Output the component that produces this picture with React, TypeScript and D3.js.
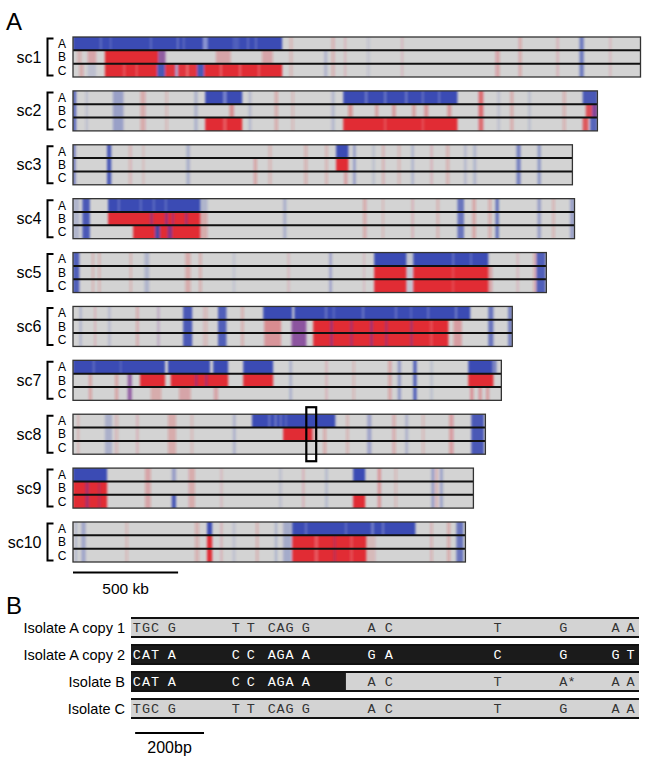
import * as d3 from 'd3'

// [startKb, endKb, tracks, colour key, strength]
type Seg = [number, number, string, string, number]

const panelLabels = ['A', 'B']
const scaffoldNames = ['sc1', 'sc2', 'sc3', 'sc4', 'sc5', 'sc6', 'sc7', 'sc8', 'sc9', 'sc10']
const scaffoldLengthsKb = [2700, 2495, 2376, 2386, 2252, 2090, 2038, 1962, 1905, 1867]
const trackNames = ['A', 'B', 'C']

const sc1Segs: Seg[] = [
  [0, 995, 'A', 'B', 1],
  [129, 136, 'A', 'W', 0.3], [176, 182, 'A', 'W', 0.25], [367, 374, 'A', 'W', 0.3],
  [495, 502, 'A', 'W', 0.35], [524, 530, 'A', 'W', 0.3], [619, 640, 'A', 'W', 0.55],
  [829, 836, 'A', 'W', 0.3], [867, 874, 'A', 'W', 0.3], [760, 790, 'A', 'W', 0.15],
  [20, 40, 'B', 'R', 0.25], [70, 110, 'B', 'R', 0.35], [152, 405, 'B', 'R', 0.95],
  [405, 440, 'B', 'P', 0.75], [680, 750, 'B', 'R', 0.35], [900, 950, 'B', 'R', 0.35],
  [30, 50, 'C', 'R', 0.3], [70, 110, 'C', 'B', 0.2], [152, 400, 'C', 'R', 0.95],
  [400, 438, 'C', 'B', 0.9], [438, 486, 'C', 'R', 0.9], [486, 500, 'C', 'B', 0.5],
  [500, 590, 'C', 'R', 0.9], [590, 624, 'C', 'B', 0.9], [624, 995, 'C', 'R', 0.95],
  [240, 248, 'C', 'W', 0.3], [300, 306, 'C', 'W', 0.3], [540, 548, 'C', 'W', 0.4],
  [700, 708, 'C', 'W', 0.35], [790, 800, 'C', 'W', 0.3], [880, 888, 'C', 'W', 0.3],
  [1030, 1045, 'ABC', 'R', 0.2], [1195, 1210, 'BC', 'B', 0.3], [1230, 1245, 'ABC', 'R', 0.25],
  [1290, 1300, 'ABC', 'R', 0.2], [1400, 1412, 'ABC', 'B', 0.15], [1560, 1572, 'ABC', 'R', 0.15],
  [2010, 2030, 'BC', 'R', 0.35], [2120, 2135, 'ABC', 'R', 0.3], [2300, 2312, 'ABC', 'R', 0.2],
  [2410, 2430, 'ABC', 'B', 0.65], [2550, 2562, 'ABC', 'R', 0.15],
]

const sc2Segs: Seg[] = [
  [0, 15, 'ABC', 'B', 0.8], [60, 72, 'ABC', 'B', 0.2], [190, 240, 'ABC', 'B', 0.5],
  [320, 345, 'ABC', 'R', 0.3], [440, 452, 'ABC', 'R', 0.2], [578, 592, 'ABC', 'B', 0.35],
  [629, 805, 'A', 'B', 1], [715, 730, 'A', 'W', 0.45],
  [629, 805, 'C', 'R', 0.95], [715, 730, 'C', 'W', 0.3], [745, 765, 'B', 'R', 0.55],
  [835, 848, 'ABC', 'B', 0.25], [960, 975, 'ABC', 'R', 0.3], [1040, 1052, 'ABC', 'R', 0.2],
  [1230, 1245, 'ABC', 'B', 0.25],
  [1286, 1829, 'A', 'B', 1], [1286, 1829, 'C', 'R', 0.95],
  [1390, 1400, 'A', 'W', 0.35], [1481, 1490, 'A', 'W', 0.35], [1581, 1590, 'A', 'W', 0.35],
  [1660, 1668, 'A', 'W', 0.3], [1738, 1746, 'A', 'W', 0.3],
  [1310, 1330, 'B', 'R', 0.5], [1438, 1452, 'B', 'R', 0.4], [1519, 1535, 'B', 'R', 0.45],
  [1614, 1630, 'B', 'R', 0.4], [1671, 1690, 'B', 'R', 0.45], [1781, 1800, 'B', 'R', 0.45],
  [1481, 1490, 'C', 'W', 0.25], [1660, 1668, 'C', 'W', 0.25],
  [1930, 1952, 'ABC', 'R', 0.6], [2020, 2032, 'ABC', 'B', 0.2], [2080, 2095, 'ABC', 'R', 0.3],
  [2165, 2178, 'ABC', 'B', 0.2], [2330, 2345, 'ABC', 'R', 0.25],
  [2425, 2495, 'A', 'B', 0.9], [2440, 2470, 'B', 'R', 0.75], [2470, 2495, 'B', 'P', 0.9],
  [2425, 2452, 'C', 'R', 0.7], [2460, 2495, 'C', 'B', 0.8],
]

const sc3Segs: Seg[] = [
  [0, 12, 'ABC', 'B', 0.7], [162, 182, 'ABC', 'B', 0.9], [265, 280, 'ABC', 'R', 0.2],
  [330, 340, 'ABC', 'R', 0.15], [540, 556, 'ABC', 'B', 0.35], [860, 875, 'BC', 'R', 0.35],
  [930, 945, 'ABC', 'R', 0.2], [1100, 1115, 'ABC', 'R', 0.25], [1200, 1212, 'ABC', 'R', 0.25],
  [1252, 1310, 'A', 'B', 1], [1252, 1310, 'B', 'R', 0.95], [1290, 1305, 'C', 'R', 0.4],
  [1333, 1345, 'ABC', 'B', 0.55], [1424, 1436, 'ABC', 'B', 0.2], [1470, 1482, 'ABC', 'R', 0.25],
  [1545, 1558, 'ABC', 'R', 0.2], [1610, 1622, 'ABC', 'B', 0.3], [1700, 1712, 'ABC', 'R', 0.2],
  [1775, 1790, 'ABC', 'R', 0.25], [1860, 1872, 'ABC', 'B', 0.25], [1905, 1918, 'ABC', 'B', 0.3],
  [2110, 2130, 'ABC', 'B', 0.6], [2210, 2226, 'ABC', 'B', 0.55],
]

const sc4Segs: Seg[] = [
  [0, 30, 'ABC', 'B', 0.3], [45, 80, 'ABC', 'B', 0.9],
  [167, 605, 'A', 'B', 1], [214, 222, 'A', 'W', 0.3], [319, 326, 'A', 'W', 0.3],
  [381, 388, 'A', 'W', 0.3], [438, 445, 'A', 'W', 0.3], [585, 640, 'A', 'B', 0.3],
  [167, 605, 'B', 'R', 0.95], [367, 380, 'B', 'P', 0.6], [438, 452, 'B', 'P', 0.7],
  [471, 480, 'B', 'P', 0.6], [533, 545, 'B', 'P', 0.6], [605, 640, 'BC', 'R', 0.3],
  [286, 605, 'C', 'R', 0.95], [390, 414, 'C', 'B', 0.85], [450, 472, 'C', 'P', 0.85],
  [1000, 1015, 'ABC', 'B', 0.35], [1380, 1396, 'ABC', 'R', 0.3], [1470, 1480, 'ABC', 'R', 0.2],
  [1610, 1622, 'ABC', 'R', 0.2], [1730, 1742, 'ABC', 'R', 0.25],
  [1829, 1860, 'ABC', 'B', 0.7], [1900, 1916, 'ABC', 'R', 0.35], [1976, 1990, 'ABC', 'R', 0.3],
  [2010, 2026, 'ABC', 'B', 0.7], [2210, 2226, 'ABC', 'B', 0.5], [2280, 2292, 'ABC', 'R', 0.25],
  [2365, 2386, 'ABC', 'B', 0.5],
]

const sc5Segs: Seg[] = [
  [0, 30, 'ABC', 'B', 0.85], [90, 100, 'ABC', 'R', 0.25], [120, 130, 'ABC', 'R', 0.25],
  [270, 280, 'ABC', 'R', 0.25], [340, 362, 'ABC', 'B', 0.3], [534, 560, 'ABC', 'R', 0.3],
  [600, 612, 'ABC', 'R', 0.3], [760, 772, 'ABC', 'B', 0.15], [1020, 1032, 'ABC', 'R', 0.15],
  [1219, 1232, 'ABC', 'B', 0.45], [1380, 1390, 'ABC', 'R', 0.15],
  [1433, 1586, 'A', 'B', 1], [1433, 1586, 'BC', 'R', 0.95], [1586, 1619, 'ABC', 'B', 0.15],
  [1619, 1976, 'A', 'B', 1], [1619, 1976, 'BC', 'R', 0.95],
  [1805, 1812, 'A', 'W', 0.35], [1890, 1897, 'A', 'W', 0.3], [1805, 1812, 'BC', 'W', 0.25],
  [1976, 1995, 'BC', 'R', 0.35], [2110, 2122, 'ABC', 'R', 0.15],
  [2190, 2205, 'ABC', 'R', 0.3], [2205, 2248, 'ABC', 'B', 0.85],
]

const sc6Segs: Seg[] = [
  [30, 42, 'ABC', 'B', 0.3], [100, 110, 'ABC', 'R', 0.2], [167, 178, 'ABC', 'B', 0.25],
  [300, 312, 'ABC', 'R', 0.3], [400, 412, 'ABC', 'P', 0.3],
  [524, 567, 'ABC', 'B', 0.9], [620, 640, 'ABC', 'R', 0.2], [690, 730, 'ABC', 'B', 0.85],
  [800, 812, 'ABC', 'R', 0.3],
  [905, 1043, 'A', 'B', 1], [1053, 1890, 'A', 'B', 1],
  [1200, 1208, 'A', 'W', 0.35], [1238, 1244, 'A', 'W', 0.3], [1376, 1384, 'A', 'W', 0.35],
  [1533, 1540, 'A', 'W', 0.35], [1605, 1612, 'A', 'W', 0.25], [1686, 1694, 'A', 'W', 0.3],
  [1819, 1826, 'A', 'W', 0.45],
  [910, 990, 'B', 'R', 0.55], [910, 990, 'C', 'R', 0.45], [1040, 1110, 'BC', 'P', 0.8],
  [1143, 1786, 'BC', 'R', 0.95],
  [1224, 1236, 'BC', 'P', 0.7], [1319, 1330, 'BC', 'P', 0.6], [1414, 1426, 'BC', 'P', 0.7],
  [1486, 1496, 'BC', 'P', 0.6], [1605, 1616, 'BC', 'P', 0.6], [1700, 1710, 'BC', 'W', 0.25],
  [1810, 1850, 'BC', 'R', 0.4], [1976, 2000, 'ABC', 'B', 0.7], [2070, 2090, 'ABC', 'B', 0.6],
]

const sc7Segs: Seg[] = [
  [0, 438, 'A', 'B', 1], [95, 102, 'A', 'W', 0.3], [224, 230, 'A', 'W', 0.25],
  [452, 652, 'A', 'B', 1], [667, 738, 'A', 'B', 1], [810, 952, 'A', 'B', 1],
  [75, 90, 'BC', 'R', 0.35], [200, 215, 'BC', 'R', 0.35], [260, 280, 'BC', 'P', 0.7],
  [319, 438, 'B', 'R', 0.95], [465, 738, 'B', 'R', 0.95], [581, 592, 'B', 'P', 0.6],
  [629, 640, 'B', 'P', 0.6], [810, 952, 'B', 'R', 0.95],
  [370, 420, 'C', 'R', 0.3], [505, 560, 'C', 'R', 0.35], [670, 690, 'C', 'R', 0.35],
  [1030, 1042, 'ABC', 'B', 0.35], [1200, 1212, 'ABC', 'R', 0.2], [1330, 1342, 'ABC', 'R', 0.2],
  [1500, 1515, 'ABC', 'R', 0.35], [1545, 1560, 'ABC', 'B', 0.55], [1619, 1635, 'ABC', 'B', 0.85],
  [1700, 1712, 'ABC', 'B', 0.2],
  [1881, 1995, 'A', 'B', 1], [1995, 2015, 'A', 'B', 0.6], [1881, 2000, 'B', 'R', 0.95],
  [1890, 1905, 'C', 'R', 0.5], [1930, 1945, 'C', 'R', 0.45], [1965, 1980, 'C', 'R', 0.4],
]

const sc8Segs: Seg[] = [
  [20, 30, 'ABC', 'R', 0.2], [152, 186, 'ABC', 'B', 0.35], [200, 215, 'ABC', 'R', 0.2],
  [300, 312, 'ABC', 'R', 0.2], [452, 490, 'ABC', 'R', 0.3], [560, 572, 'ABC', 'R', 0.2],
  [760, 775, 'ABC', 'B', 0.3],
  [852, 1248, 'A', 'B', 1], [930, 938, 'A', 'W', 0.35], [960, 968, 'A', 'W', 0.4],
  [985, 992, 'A', 'W', 0.35], [1010, 1016, 'A', 'W', 0.3],
  [1000, 1138, 'B', 'R', 0.95], [1138, 1160, 'B', 'R', 0.3], [1190, 1205, 'BC', 'R', 0.3],
  [1300, 1312, 'ABC', 'R', 0.25], [1400, 1420, 'ABC', 'B', 0.45], [1520, 1535, 'ABC', 'R', 0.3],
  [1580, 1595, 'ABC', 'B', 0.3], [1660, 1672, 'ABC', 'R', 0.2],
  [1790, 1810, 'ABC', 'R', 0.4], [1895, 1955, 'ABC', 'B', 0.9],
]

const sc9Segs: Seg[] = [
  [0, 162, 'A', 'B', 1], [0, 162, 'BC', 'R', 0.95], [60, 75, 'BC', 'P', 0.6],
  [120, 130, 'BC', 'P', 0.5],
  [343, 370, 'ABC', 'R', 0.35], [470, 490, 'A', 'B', 0.5], [470, 490, 'C', 'B', 0.9],
  [550, 580, 'ABC', 'R', 0.3], [700, 712, 'ABC', 'R', 0.15], [980, 992, 'ABC', 'B', 0.2],
  [1090, 1102, 'ABC', 'R', 0.2], [1200, 1212, 'ABC', 'B', 0.25],
  [1333, 1390, 'A', 'B', 1], [1333, 1390, 'C', 'R', 0.95],
  [1450, 1465, 'ABC', 'R', 0.45], [1530, 1542, 'ABC', 'R', 0.2],
  [1705, 1720, 'ABC', 'B', 0.5], [1725, 1735, 'ABC', 'R', 0.3], [1745, 1760, 'ABC', 'B', 0.45],
]

const sc10Segs: Seg[] = [
  [10, 20, 'ABC', 'B', 0.3], [40, 60, 'ABC', 'B', 0.45], [250, 262, 'ABC', 'R', 0.2],
  [580, 600, 'ABC', 'R', 0.25],
  [638, 662, 'A', 'B', 1], [638, 662, 'BC', 'R', 0.95],
  [700, 712, 'ABC', 'R', 0.2], [760, 772, 'ABC', 'B', 0.2], [870, 882, 'ABC', 'R', 0.25],
  [960, 972, 'ABC', 'B', 0.3], [1000, 1040, 'ABC', 'B', 0.4],
  [1043, 1629, 'A', 'B', 1], [1105, 1112, 'A', 'W', 0.35], [1295, 1302, 'A', 'W', 0.3],
  [1420, 1430, 'A', 'W', 0.45], [1470, 1480, 'A', 'W', 0.3],
  [1043, 1395, 'BC', 'R', 0.95], [1150, 1165, 'BC', 'W', 0.3], [1240, 1250, 'BC', 'P', 0.5],
  [1320, 1330, 'BC', 'W', 0.25], [1395, 1440, 'BC', 'R', 0.2],
  [1700, 1712, 'ABC', 'R', 0.25], [1780, 1795, 'ABC', 'R', 0.3], [1824, 1857, 'ABC', 'B', 0.7],
]

const scaffoldSegs = [sc1Segs, sc2Segs, sc3Segs, sc4Segs, sc5Segs, sc6Segs, sc7Segs, sc8Segs, sc9Segs, sc10Segs]
const highlightScaffold = 7
const highlightKb = [1110, 1157]
const scaleBarKb = 500
const scaleBarLabel = '500 kb'

// panel B
const isolateLabels = ['Isolate A copy 1', 'Isolate A copy 2', 'Isolate B', 'Isolate C']
const alignLengthBp = 1475
const snpPositionsBp = [17, 44, 70, 119, 305, 348, 409, 435, 461, 508, 699, 749, 1065, 1256, 1407, 1451]
const copy1Bases = ['T', 'G', 'C', 'G', 'T', 'T', 'C', 'A', 'G', 'G', 'A', 'C', 'T', 'G', 'A', 'A']
const copy2Bases = ['C', 'A', 'T', 'A', 'C', 'C', 'A', 'G', 'A', 'A', 'G', 'A', 'C', 'G', 'G', 'T']
const isolateBBases = ['C', 'A', 'T', 'A', 'C', 'C', 'A', 'G', 'A', 'A', 'A', 'C', 'T', 'A*', 'A', 'A']
const isolateCBases = ['T', 'G', 'C', 'G', 'T', 'T', 'C', 'A', 'G', 'G', 'A', 'C', 'T', 'G', 'A', 'A']
const isolateBases = [copy1Bases, copy2Bases, isolateBBases, isolateCBases]
const darkUntilBp = [0, alignLengthBp, 624, 0]
const bpScaleBar = 200
const bpScaleLabel = '200bp'

const colours: Record<string, string> = {
  B: '#3a4bb4',
  R: '#e2232b',
  P: '#7a3592',
  W: '#ffffff',
}
const GREY = '#d3d3d3'
const FONT = 'Helvetica, Arial, "Liberation Sans", sans-serif'

export default function App() {
  const W = 649
  const H = 763
  const x = d3.scaleLinear().domain([0, 2700]).range([73, 640.5])
  const y = d3.scaleLinear().domain([0, 9]).range([37, 522])
  const scH = 40
  const tH = scH / 3
  const tY = d3.scaleBand().domain(trackNames).range([0, scH])

  const xb = d3.scaleLinear().domain([0, alignLengthBp]).range([131, 639])
  const yb = d3.scaleLinear().domain([0, 3]).range([618, 699])
  const rowH = 19

  // faint stripes are softer than the solid blocks
  const strength = (a: number) => (a < 0.6 ? a * 0.75 : a)

  return (
    <svg width={W} height={H} style={{ position: 'absolute', left: 0, top: 0, background: '#fff' }}>
      <defs>
        <filter id="soft" x="-2%" y="0" width="104%" height="100%">
          <feGaussianBlur stdDeviation="0.9 0" />
        </filter>
        {scaffoldNames.map((name, i) => (
          <clipPath key={name} id={`clip-${name}`}>
            <rect x={x(0)} y={y(i)} width={x(scaffoldLengthsKb[i]) - x(0)} height={scH} />
          </clipPath>
        ))}
      </defs>
      <text x={6} y={29.5} fontFamily={FONT} fontSize={24}>{panelLabels[0]}</text>
      {scaffoldNames.map((name, i) => {
        const top = y(i)
        const x0 = x(0)
        const x1 = x(scaffoldLengthsKb[i])
        return (
          <g key={name}>
            <text x={41.5} y={top + scH / 2 + 5.5} textAnchor="end" fontFamily={FONT} fontSize={16}>{name}</text>
            <path d={`M53.5,${top + 1.5}H47.5V${top + scH - 1.5}H53.5`} fill="none" stroke="#000" strokeWidth={2} />
            {trackNames.map(t => (
              <text key={t} x={62} y={top + (tY(t) ?? 0) + tH / 2 + 4.2} textAnchor="middle" fontFamily={FONT} fontSize={12}>{t}</text>
            ))}
            <rect x={x0} y={top} width={x1 - x0} height={scH} fill={GREY} />
            <g clipPath={`url(#clip-${name})`}>
              <g filter="url(#soft)">
                {scaffoldSegs[i].map((s, k) => (
                  <g key={k}>
                    {trackNames.filter(t => s[2].includes(t)).map(t => (
                      <rect key={t} x={x(s[0])} y={top + (tY(t) ?? 0)} width={Math.max(0.8, x(s[1]) - x(s[0]))} height={tH}
                        fill={colours[s[3]]} opacity={strength(s[4])} />
                    ))}
                  </g>
                ))}
              </g>
            </g>
            <line x1={x0} x2={x1} y1={top + tH} y2={top + tH} stroke="#111" strokeWidth={2} />
            <line x1={x0} x2={x1} y1={top + 2 * tH} y2={top + 2 * tH} stroke="#111" strokeWidth={2} />
            <rect x={x0} y={top} width={x1 - x0} height={scH} fill="none" stroke="#333" strokeWidth={1.3} />
          </g>
        )
      })}
      <rect x={x(highlightKb[0])} y={y(highlightScaffold) - 7} width={x(highlightKb[1]) - x(highlightKb[0])} height={scH + 14}
        fill="none" stroke="#000" strokeWidth={2.2} />
      <line x1={x(0)} x2={x(scaleBarKb)} y1={572.5} y2={572.5} stroke="#000" strokeWidth={2} />
      <text x={(x(0) + x(scaleBarKb)) / 2} y={594} textAnchor="middle" fontFamily={FONT} fontSize={15.5}>{scaleBarLabel}</text>

      <text x={6} y={614} fontFamily={FONT} fontSize={24}>{panelLabels[1]}</text>
      {isolateLabels.map((label, r) => {
        const top = yb(r)
        return (
          <g key={label}>
            <text x={125} y={top + rowH / 2 + 5} textAnchor="end" fontFamily={FONT} fontSize={14.5}>{label}</text>
            <rect x={xb(0)} y={top} width={xb(alignLengthBp) - xb(0)} height={rowH} fill={GREY} />
            {darkUntilBp[r] > 0 && (
              <rect x={xb(0)} y={top} width={xb(darkUntilBp[r]) - xb(0)} height={rowH} fill="#1b1b1b" />
            )}
            <line x1={xb(0)} x2={xb(alignLengthBp)} y1={top} y2={top} stroke="#111" strokeWidth={2} />
            <line x1={xb(0)} x2={xb(alignLengthBp)} y1={top + rowH} y2={top + rowH} stroke="#111" strokeWidth={2} />
            {isolateBases[r].map((b, k) => {
              const p = snpPositionsBp[k]
              const dark = p < darkUntilBp[r]
              return (
                <text key={k} x={xb(p) - 4.2} y={top + rowH / 2 + 4.8} fontFamily={'"Liberation Mono", "Courier New", monospace'}
                  fontSize={13.5} fill={dark ? '#fff' : '#333'}>{b}</text>
              )
            })}
          </g>
        )
      })}
      <line x1={xb(12)} x2={xb(12 + bpScaleBar)} y1={733} y2={733} stroke="#000" strokeWidth={2} />
      <text x={(xb(12) + xb(12 + bpScaleBar)) / 2} y={753} textAnchor="middle" fontFamily={FONT} fontSize={16}>{bpScaleLabel}</text>
    </svg>
  )
}
